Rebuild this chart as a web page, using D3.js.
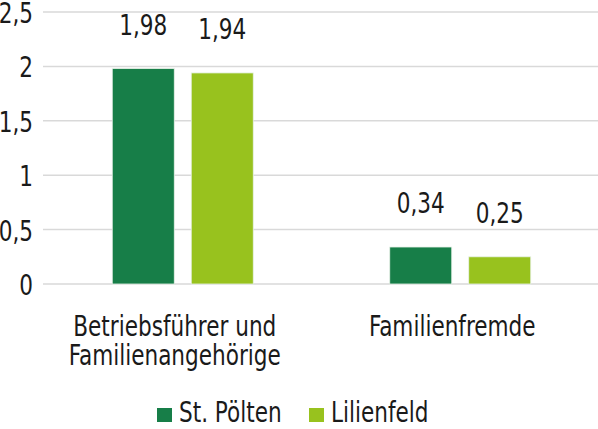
<html>
<head>
<meta charset="utf-8">
<script src="https://cdn.jsdelivr.net/npm/d3@7"></script>
<style>
  body { margin: 0; background: #fff; }
  text { font-family: "Liberation Sans Narrow", "DejaVu Sans Condensed", "DejaVu Sans", sans-serif; font-stretch: condensed; fill: #1a1a1a; }
</style>
</head>
<body>
<div id="chart"></div>
<script>
// data
var categories = [["Betriebsführer und", "Familienangehörige"], ["Familienfremde"]];
var series = ["St. Pölten", "Lilienfeld"];
var stPoelten = [1.98, 0.34];
var lilienfeld = [1.94, 0.25];
var yTicks = [0, 0.5, 1, 1.5, 2, 2.5];
var colors = ["#177e48", "#98c21e"];

var W = 598, H = 429;
var mLeft = 43, mRight = 598, mTop = 12, mBottom = 284;
var tall = 1.2; // reference font is taller than DejaVu condensed

var svg = d3.select("#chart").append("svg")
    .attr("width", W)
    .attr("height", H);

var y = d3.scaleLinear().domain([0, 2.5]).range([mBottom, mTop]);
var x0 = d3.scaleBand().domain(d3.range(categories.length)).range([mLeft + 1, mRight + 1]);
var x1 = d3.scaleBand().domain(d3.range(series.length)).range([0, 141]).paddingInner(0.215);

var fmt = function(v) { return String(v).replace(".", ","); };

// helper: text placed at (x,y) and stretched vertically
function label(x, yy, str, anchor) {
    return svg.append("text")
        .attr("transform", "translate(" + x + "," + yy + ") scale(1," + tall + ")")
        .attr("text-anchor", anchor || "start")
        .attr("font-size", 24)
        .text(str);
}

// gridlines
svg.selectAll("line.grid")
    .data(yTicks)
    .enter().append("line")
    .attr("x1", mLeft).attr("x2", mRight)
    .attr("y1", function(d) { return y(d); })
    .attr("y2", function(d) { return y(d); })
    .attr("stroke", "#d9d9d9")
    .attr("stroke-width", 1.5);

// y labels
yTicks.forEach(function(t) {
    label(33, y(t) + 11, fmt(t), "end");
});

var rows = [];
categories.forEach(function(c, i) {
    rows.push({cat: i, s: 0, v: stPoelten[i]});
    rows.push({cat: i, s: 1, v: lilienfeld[i]});
});

var barX = function(d) { return x0(d.cat) + x0.bandwidth() / 2 - 70.5 + x1(d.s); };

svg.selectAll("rect.bar")
    .data(rows)
    .enter().append("rect")
    .attr("x", barX)
    .attr("y", function(d) { return y(d.v); })
    .attr("width", x1.bandwidth())
    .attr("height", function(d) { return mBottom - y(d.v); })
    .attr("fill", function(d) { return colors[d.s]; })
    .attr("stroke", "#e8f2e8")
    .attr("stroke-width", 0.8);

rows.forEach(function(d) {
    label(barX(d) + x1.bandwidth() / 2, y(d.v) - 34, fmt(d.v), "middle");
});

// category labels (sit a little left of the bar pair, as in the original)
categories.forEach(function(lines, i) {
    lines.forEach(function(l, j) {
        label(x0(i) + x0.bandwidth() / 2 - 8, 336 + j * 29, l, "middle");
    });
});

// legend
var legX = [157, 309];
series.forEach(function(s, i) {
    svg.append("rect")
        .attr("x", legX[i]).attr("y", 408)
        .attr("width", 15).attr("height", 14)
        .attr("fill", colors[i]);
    label(legX[i] + 22, 422, s);
});
</script>
</body>
</html>
